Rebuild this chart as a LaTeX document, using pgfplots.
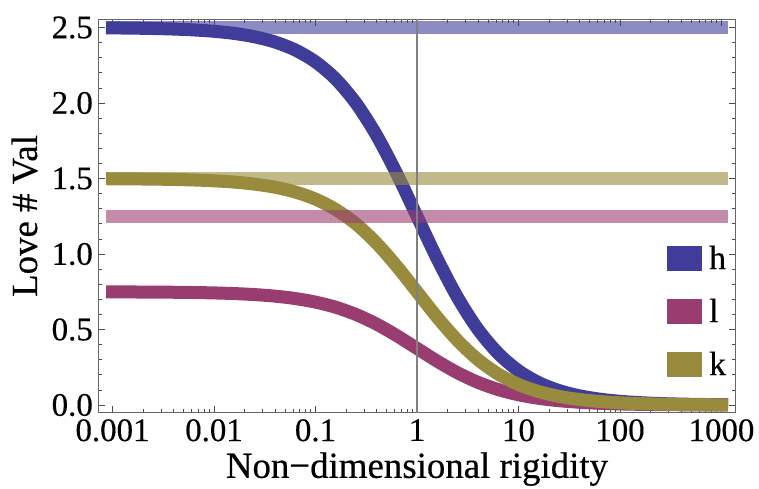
\documentclass[border=0pt]{standalone}
\usepackage{fontspec}
\setmainfont{Liberation Serif}[FakeBold=0.4]
\usepackage{pgfplots}
\pgfplotsset{compat=1.18}
\usepackage{pgfplotstable}
\definecolor{hcol}{RGB}{63,61,153}
\definecolor{lcol}{RGB}{153,61,113}
\definecolor{kcol}{RGB}{153,139,61}
\pgfplotstableread{
x h l k
0.001 2.4975 0.7493 1.4985
0.001585 2.4961 0.7488 1.4976
0.002512 2.4937 0.7481 1.4962
0.003981 2.4901 0.7470 1.4940
0.006310 2.4843 0.7453 1.4906
0.01 2.4752 0.7426 1.4851
0.015849 2.4610 0.7383 1.4766
0.025119 2.4387 0.7316 1.4632
0.039811 2.4043 0.7213 1.4426
0.063096 2.3516 0.7055 1.4110
0.1 2.2727 0.6818 1.3636
0.158489 2.1580 0.6474 1.2948
0.251189 1.9981 0.5994 1.1989
0.398107 1.7881 0.5364 1.0729
0.630957 1.5328 0.4598 0.9197
1 1.25 0.375 0.75
1.584893 0.9672 0.2902 0.5803
2.511886 0.7119 0.2136 0.4271
3.981072 0.5019 0.1506 0.3011
6.309573 0.3420 0.1026 0.2052
10 0.2273 0.0682 0.1364
15.8489 0.1484 0.0445 0.0890
25.1189 0.0957 0.0287 0.0574
39.8107 0.0613 0.0184 0.0368
63.0957 0.0390 0.0117 0.0234
100 0.0248 0.0074 0.0149
158.489 0.0157 0.0047 0.0094
251.189 0.0099 0.0030 0.0060
398.107 0.0063 0.0019 0.0038
630.957 0.0040 0.0012 0.0024
1000 0.0025 0.0007 0.0015
}\lovetable
\begin{document}
\begin{tikzpicture}
\path[use as bounding box] (-99bp,-77bp) rectangle (660bp,412bp);
\begin{axis}[
  scale only axis,
  width=636bp, height=392bp,
  at={(0,0)}, anchor=south west,
  xmode=log,
  xmin=0.000736, xmax=1358,
  ymin=-0.046, ymax=2.55,
  xtick={0.001,0.01,0.1,1,10,100,1000},
  xticklabels={0.001,0.01,0.1,1,10,100,1000},
  minor xtick={0.002,0.003,0.004,0.005,0.006,0.007,0.008,0.009,0.02,0.03,0.04,0.05,0.06,0.07,0.08,0.09,0.2,0.3,0.4,0.5,0.6,0.7,0.8,0.9,2,3,4,5,6,7,8,9,20,30,40,50,60,70,80,90,200,300,400,500,600,700,800,900},
  ytick={0,0.5,1,1.5,2,2.5},
  minor ytick={0.1,0.2,0.3,0.4,0.6,0.7,0.8,0.9,1.1,1.2,1.3,1.4,1.6,1.7,1.8,1.9,2.1,2.2,2.3,2.4},
  /pgf/number format/assume math mode=true,
  yticklabel style={/pgf/number format/fixed,/pgf/number format/fixed zerofill,/pgf/number format/precision=1,inner xsep=6bp,inner ysep=0bp},
  tick label style={font=\fontsize{33}{33}\selectfont},
  xticklabel style={inner ysep=7bp,inner xsep=0bp},
  major tick length=6bp, minor tick length=3.5bp,
  tick style={gray!60!black, line width=0.8bp},
  axis line style={gray!80!black, line width=1bp},
  xlabel={Non−dimensional rigidity},
  ylabel={Love \# Val},
  label style={font=\fontsize{37}{37}\selectfont},
  xlabel style={at={(axis description cs:0.5,-0.168)}, anchor=base},
  ylabel style={at={(axis description cs:-0.0975,0.5)}, anchor=base},
  legend style={draw=none, fill=none, at={(0.893,0.43)}, anchor=north west,
    font=\fontsize{34}{34}\selectfont, row sep=24bp, inner sep=0pt,
    nodes={inner sep=2bp, anchor=west}},
  legend cell align=left,
  legend image code/.code={\fill[#1] (0bp,-6bp) rectangle (22bp,6bp);},
]
\addplot[hcol, line width=13bp, smooth, line cap=rect] table[x=x,y=h] {\lovetable};
\addlegendentry{\hspace{5bp}h}
\addplot[lcol, line width=13bp, smooth, line cap=rect] table[x=x,y=l] {\lovetable};
\addlegendentry{\hspace{5bp}l}
\addplot[kcol, line width=13bp, smooth, line cap=rect] table[x=x,y=k] {\lovetable};
\addlegendentry{\hspace{5bp}k}
\addplot[forget plot, hcol, opacity=0.6, line width=13bp, line cap=rect] coordinates {(0.001,2.5) (1000,2.5)};
\addplot[forget plot, kcol, opacity=0.6, line width=13bp, line cap=rect] coordinates {(0.001,1.5) (1000,1.5)};
\addplot[forget plot, lcol, opacity=0.6, line width=13bp, line cap=rect] coordinates {(0.001,1.25) (1000,1.25)};
\addplot[forget plot, gray, line width=2.5bp] coordinates {(1,-0.1) (1,2.6)};
\end{axis}
\end{tikzpicture}
\end{document}
